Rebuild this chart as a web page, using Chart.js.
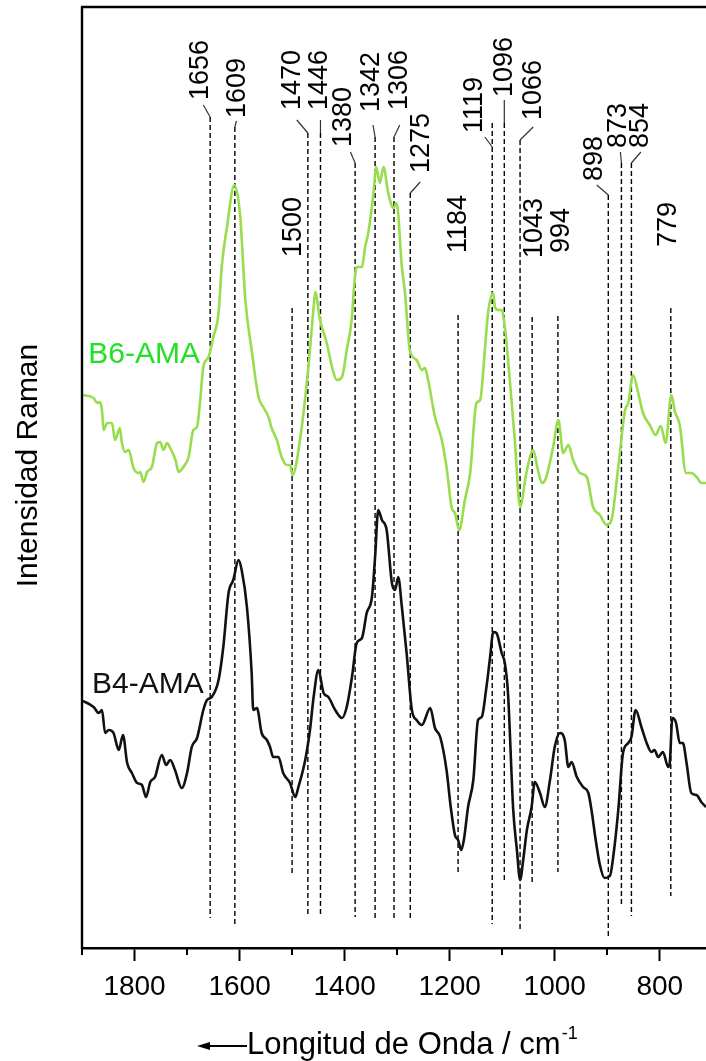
<!DOCTYPE html>
<html><head><meta charset="utf-8">
<script src="https://cdn.jsdelivr.net/npm/chart.js@4.4.1/dist/chart.umd.min.js"></script>
<style>html,body{margin:0;padding:0;background:#fff;overflow:hidden}canvas{display:block}</style>
</head><body>
<canvas id="c" width="706" height="1061"></canvas>
<script>
// ---- data (wavenumber in cm^-1, intensity in arbitrary units) ----
const b6Wn = [1900,1878,1871,1866,1862,1859,1852,1843,1837,1828,1824,1818,1811,1802,1792,1789,1783,1776,1767,1757,1751,1745,1738,1732,1722,1716,1707,1697,1688,1681,1675,1669,1659,1650,1640,1634,1624,1610,1599,1589,1577,1564,1555,1545,1539,1529,1520,1510,1504,1499,1485,1469,1459,1456,1447,1434,1424,1415,1405,1396,1386,1383,1377,1367,1361,1355,1345,1340,1333,1326,1317,1307,1301,1291,1285,1276,1263,1253,1247,1241,1228,1215,1206,1196,1190,1182,1171,1161,1149,1142,1133,1127,1117,1114,1108,1101,1095,1085,1076,1066,1054,1041,1032,1024,1016,1003,993,984,974,965,952,939,927,914,901,892,879,866,860,851,841,832,819,808,798,789,778,771,762,750,740,730,721,712];
const b6Int = [553,550,545,546,538,518,525,525,508,520,505,496,498,480,475,476,466,476,481,505,506,498,505,500,488,476,481,491,518,521,548,581,591,611,635,681,721,763,733,648,598,551,541,531,520,508,491,483,483,473,508,581,641,656,628,605,581,568,571,598,631,655,681,681,701,715,755,781,765,781,755,740,745,681,655,598,588,578,580,568,531,508,481,440,435,418,448,475,545,548,598,635,655,641,638,638,621,565,508,441,475,498,478,465,471,501,528,495,503,488,475,471,441,433,423,428,481,538,545,573,555,535,523,513,522,505,553,536,523,475,475,471,465,465];
const b4Wn = [1900,1894,1878,1868,1862,1856,1849,1840,1830,1822,1814,1805,1795,1786,1778,1770,1761,1748,1740,1732,1723,1710,1700,1691,1681,1669,1662,1653,1640,1631,1621,1612,1602,1596,1586,1577,1574,1567,1558,1548,1542,1536,1526,1517,1504,1494,1488,1475,1466,1459,1450,1440,1431,1418,1405,1396,1386,1377,1367,1358,1348,1342,1336,1329,1320,1310,1304,1298,1291,1282,1272,1263,1253,1237,1228,1218,1206,1198,1190,1184,1178,1173,1165,1155,1146,1139,1130,1123,1117,1111,1101,1095,1089,1079,1072,1066,1060,1053,1044,1038,1028,1019,1009,1000,990,981,974,968,958,946,936,930,922,914,905,895,887,879,870,860,854,846,835,825,816,810,803,794,784,781,776,769,762,756,749,740,730,721,712];
const b4Int = [247,246,241,235,238,215,218,215,198,213,185,175,165,163,151,166,171,193,183,188,178,160,175,201,210,238,248,251,268,301,355,368,388,378,341,275,238,240,215,208,201,191,191,175,165,151,161,188,218,251,278,255,251,238,230,241,271,305,310,335,351,391,438,428,418,365,358,371,341,295,238,228,223,240,220,211,178,141,113,108,98,108,141,168,228,231,261,291,316,315,295,285,255,138,98,68,88,118,141,166,155,141,168,201,215,208,181,186,171,161,155,138,108,83,70,72,98,138,195,205,211,238,221,205,196,198,191,196,181,185,230,225,205,205,185,155,153,146,141];
const seriesNames = ['B6-AMA', 'B4-AMA'];
const xTickValues = [1800, 1600, 1400, 1200, 1000, 800];
const xMinorTicks = [1900, 1700, 1500, 1300, 1100, 900];
const peakWn = [1656,1609,1500,1470,1446,1380,1342,1306,1275,1184,1119,1096,1066,1043,994,898,873,854,779];
const peakLabels = peakWn.map(String);

// ---- annotation geometry (in data units) ----
const labelWn = [1675,1603,1497,1500,1447,1402,1348,1295,1253,1184,1152,1095,1041,1038,987,924,879,836,784];
const labelBase = [848,830,691,838,838,801,836,838,775,695,815,851,828,690,695,767,800,800,701];
const leaderFromWn = [1669,1606,null,1491,1446,1389,1346,1295,1256,null,1133,1096,1041,null,null,920,875,836,null];
const leaderFromInt = [843,827,null,828,828,796,823,823,766,null,811,848,821,null,null,763,796,796,null];
const leaderToInt = [831,821,null,815,815,785,811,811,755,null,801,825,808,null,null,753,785,785,null];
const dashTop = [831,821,640,815,815,785,811,811,755,633,825,825,808,631,632,753,785,785,640];
const dashBottom = [30,24,75,32,32,31,27,27,29,73,24,65,17,63,76,9,41,32,52];
const seriesLabelWn = [1888, 1881];
const seriesLabelInt = [585, 255];

const FONT = "'Liberation Sans', Arial, sans-serif";
const B6_LINE = '#97dd4c', B6_TEXT = '#22e022', B4_COLOR = '#111111';

const toXY = (xs, ys) => xs.map((v, i) => ({x: v, y: ys[i]}));

const datasets = [
  {label: seriesNames[0], data: toXY(b6Wn, b6Int), borderColor: B6_LINE, borderWidth: 2.6, pointRadius: 0, cubicInterpolationMode: 'monotone', order: 0},
  {label: seriesNames[1], data: toXY(b4Wn, b4Int), borderColor: B4_COLOR, borderWidth: 2.6, pointRadius: 0, cubicInterpolationMode: 'monotone', order: 0}
];
peakWn.forEach((w, i) => {
  datasets.push({data: [{x: w, y: dashTop[i]}, {x: w, y: dashBottom[i]}], borderColor: '#000', borderWidth: 1.4, borderDash: [5, 3], pointRadius: 0, order: 2});
  if (leaderFromWn[i] !== null) {
    datasets.push({data: [{x: leaderFromWn[i], y: leaderFromInt[i]}, {x: w, y: leaderToInt[i]}], borderColor: '#333', borderWidth: 1.2, pointRadius: 0, order: 2});
  }
});

const overlay = {
  id: 'overlay',
  afterDatasetsDraw(chart) {
    const {ctx, chartArea: a, scales: {x, y}} = chart;
    ctx.save();
    ctx.strokeStyle = '#000';
    ctx.lineWidth = 2.4;
    ctx.beginPath(); ctx.moveTo(a.left - 1, a.top); ctx.lineTo(a.right, a.top); ctx.stroke();
    ctx.beginPath(); ctx.moveTo(a.left, a.top); ctx.lineTo(a.left, a.bottom + 1); ctx.stroke();
    ctx.lineWidth = 2;
    xMinorTicks.forEach(v => {
      const px = Math.round(x.getPixelForValue(v));
      ctx.beginPath(); ctx.moveTo(px, a.bottom); ctx.lineTo(px, a.bottom + 7); ctx.stroke();
    });
    // peak labels
    ctx.fillStyle = '#000';
    ctx.font = `27px ${FONT}`;
    ctx.textAlign = 'left';
    ctx.textBaseline = 'middle';
    peakLabels.forEach((t, i) => {
      ctx.save();
      ctx.translate(x.getPixelForValue(labelWn[i]), y.getPixelForValue(labelBase[i]));
      ctx.rotate(-Math.PI / 2);
      ctx.fillText(t, 0, 0);
      ctx.restore();
    });
    // series labels
    ctx.font = `30px ${FONT}`;
    ctx.textBaseline = 'alphabetic';
    ctx.fillStyle = B6_TEXT;
    ctx.fillText(seriesNames[0], x.getPixelForValue(seriesLabelWn[0]), y.getPixelForValue(seriesLabelInt[0]));
    ctx.fillStyle = B4_COLOR;
    ctx.fillText(seriesNames[1], x.getPixelForValue(seriesLabelWn[1]), y.getPixelForValue(seriesLabelInt[1]));
    // y title
    ctx.fillStyle = '#000';
    ctx.save();
    ctx.translate(a.left - 45, (a.top + a.bottom) / 2 - 12);
    ctx.rotate(-Math.PI / 2);
    ctx.textAlign = 'center';
    ctx.fillText('Intensidad Raman', 0, 0);
    ctx.restore();
    // x title with arrow
    const tx = a.left + 165, ty = a.bottom + 106;
    ctx.font = `31px ${FONT}`;
    ctx.textAlign = 'left';
    const main = 'Longitud de Onda / cm';
    ctx.fillText(main, tx, ty);
    const w = ctx.measureText(main).width;
    ctx.font = `18px ${FONT}`;
    ctx.fillText('-1', tx + w + 1, ty - 15);
    const ay = ty - 8;
    ctx.lineWidth = 2;
    ctx.beginPath(); ctx.moveTo(tx - 38, ay); ctx.lineTo(tx, ay); ctx.stroke();
    ctx.beginPath(); ctx.moveTo(tx - 50, ay); ctx.lineTo(tx - 37, ay - 4); ctx.lineTo(tx - 37, ay + 4); ctx.closePath(); ctx.fill();
    ctx.restore();
  }
};

new Chart(document.getElementById('c'), {
  type: 'line',
  data: {datasets},
  options: {
    responsive: false,
    animation: false,
    devicePixelRatio: 1,
    layout: {padding: {left: 82, top: 7, right: 0, bottom: 0}},
    plugins: {legend: {display: false}, tooltip: {enabled: false}},
    scales: {
      x: {
        type: 'linear', reverse: true, min: 712, max: 1900,
        afterBuildTicks: s => { s.ticks = xTickValues.map(v => ({value: v})); },
        ticks: {font: {family: FONT, size: 28}, color: '#000', padding: 9, maxRotation: 0, autoSkip: false, callback: v => String(v)},
        grid: {drawOnChartArea: false, drawTicks: true, tickLength: 13, tickWidth: 2, tickColor: '#000'},
        border: {display: true, color: '#000', width: 2.4},
        afterFit: s => { s.height = 113; }
      },
      y: {display: false, min: 0, max: 941}
    }
  },
  plugins: [overlay]
});
</script>
</body></html>
